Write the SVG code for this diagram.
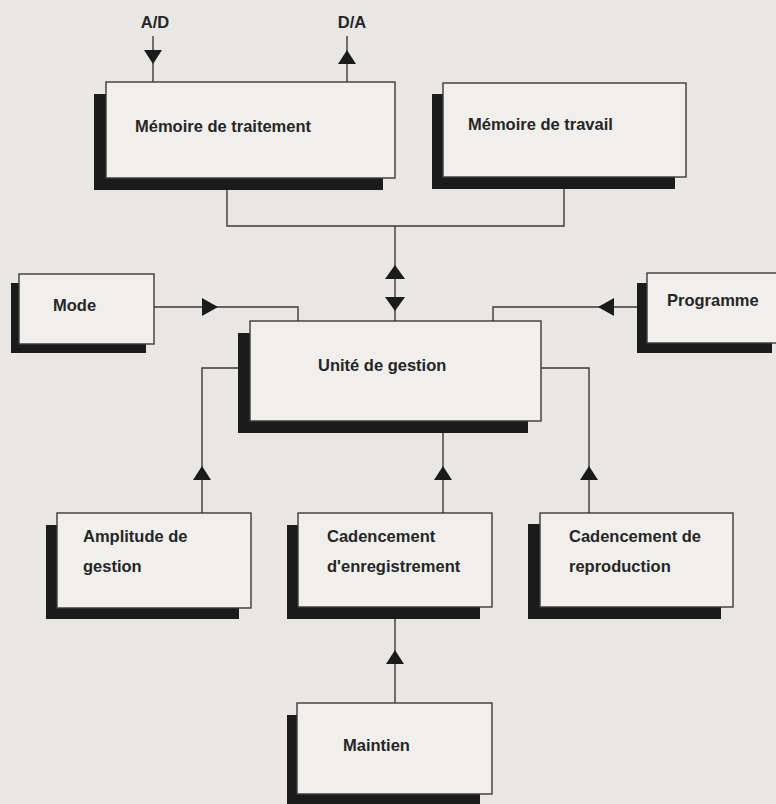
<svg xmlns="http://www.w3.org/2000/svg" width="776" height="804" viewBox="0 0 776 804">
<defs>
<style>
.bg{fill:#e9e7e3}
.sh{fill:#1b1b1b}
.bx{fill:#f0efeb;stroke:#3a3a3a;stroke-width:1.4}
.t{font-family:"Liberation Sans",Arial,sans-serif;font-weight:bold;font-size:16.5px;fill:#262626}
.ln{fill:none;stroke:#3a3a3a;stroke-width:1.4}
.ah{fill:#1b1b1b}
</style>
</defs>
<rect class="bg" x="0" y="0" width="776" height="804"/>

<g id="connectors">
<path class="ln" d="M153,36 V82"/>
<polygon class="ah" points="144,50 162,50 153,64"/>
<path class="ln" d="M347,36 V82"/>
<polygon class="ah" points="338,64 356,64 347,50"/>
<path class="ln" d="M227,190 V226 H564 V189"/>
<path class="ln" d="M395,226 V321"/>
<polygon class="ah" points="385,279 405,279 395,265"/>
<polygon class="ah" points="385,297 405,297 395,311"/>
<path class="ln" d="M154,307 H298 V321"/>
<polygon class="ah" points="202,298 202,316 218,307"/>
<path class="ln" d="M637,307 H493 V321"/>
<polygon class="ah" points="614,298 614,316 598,307"/>
<path class="ln" d="M239,368 H202 V513"/>
<polygon class="ah" points="193,480 211,480 202,466"/>
<path class="ln" d="M443,433 V513"/>
<polygon class="ah" points="434,480 452,480 443,466"/>
<path class="ln" d="M541,368 H589 V513"/>
<polygon class="ah" points="580,480 598,480 589,466"/>
<path class="ln" d="M395,619 V703"/>
<polygon class="ah" points="386,664 404,664 395,650"/>
</g>

<g id="labels-io">
<text class="t" x="155" y="28" text-anchor="middle">A/D</text>
<text class="t" x="352" y="28" text-anchor="middle">D/A</text>
</g>

<g id="memoire-traitement">
<rect class="sh" x="94" y="94" width="289" height="96"/>
<rect class="bx" x="106" y="82" width="289" height="96"/>
<text class="t" x="135" y="132">Mémoire de traitement</text>
</g>

<g id="memoire-travail">
<rect class="sh" x="432" y="94" width="243" height="95"/>
<rect class="bx" x="443" y="83" width="243" height="94"/>
<text class="t" x="468" y="130">Mémoire de travail</text>
</g>

<g id="mode">
<rect class="sh" x="11" y="283" width="135" height="70"/>
<rect class="bx" x="19" y="274" width="135" height="70"/>
<text class="t" x="53" y="311">Mode</text>
</g>

<g id="programme">
<rect class="sh" x="637" y="283" width="135" height="70"/>
<rect class="bx" x="647" y="273" width="135" height="70"/>
<text class="t" x="667" y="306">Programme</text>
</g>

<g id="unite-gestion">
<rect class="sh" x="238" y="333" width="290" height="100"/>
<rect class="bx" x="250" y="321" width="291" height="100"/>
<text class="t" x="318" y="371">Unité de gestion</text>
</g>

<g id="amplitude">
<rect class="sh" x="46" y="525" width="193" height="94"/>
<rect class="bx" x="57" y="513" width="194" height="95"/>
<text class="t" x="83" y="542">Amplitude de</text>
<text class="t" x="83" y="572">gestion</text>
</g>

<g id="cadencement-enregistrement">
<rect class="sh" x="287" y="525" width="193" height="94"/>
<rect class="bx" x="298" y="513" width="194" height="94"/>
<text class="t" x="327" y="542">Cadencement</text>
<text class="t" x="327" y="572">d'enregistrement</text>
</g>

<g id="cadencement-reproduction">
<rect class="sh" x="528" y="524" width="193" height="95"/>
<rect class="bx" x="540" y="513" width="193" height="94"/>
<text class="t" x="569" y="542">Cadencement de</text>
<text class="t" x="569" y="572">reproduction</text>
</g>

<g id="maintien">
<rect class="sh" x="287" y="715" width="193" height="91"/>
<rect class="bx" x="297" y="703" width="195" height="91"/>
<text class="t" x="343" y="751">Maintien</text>
</g>
</svg>
